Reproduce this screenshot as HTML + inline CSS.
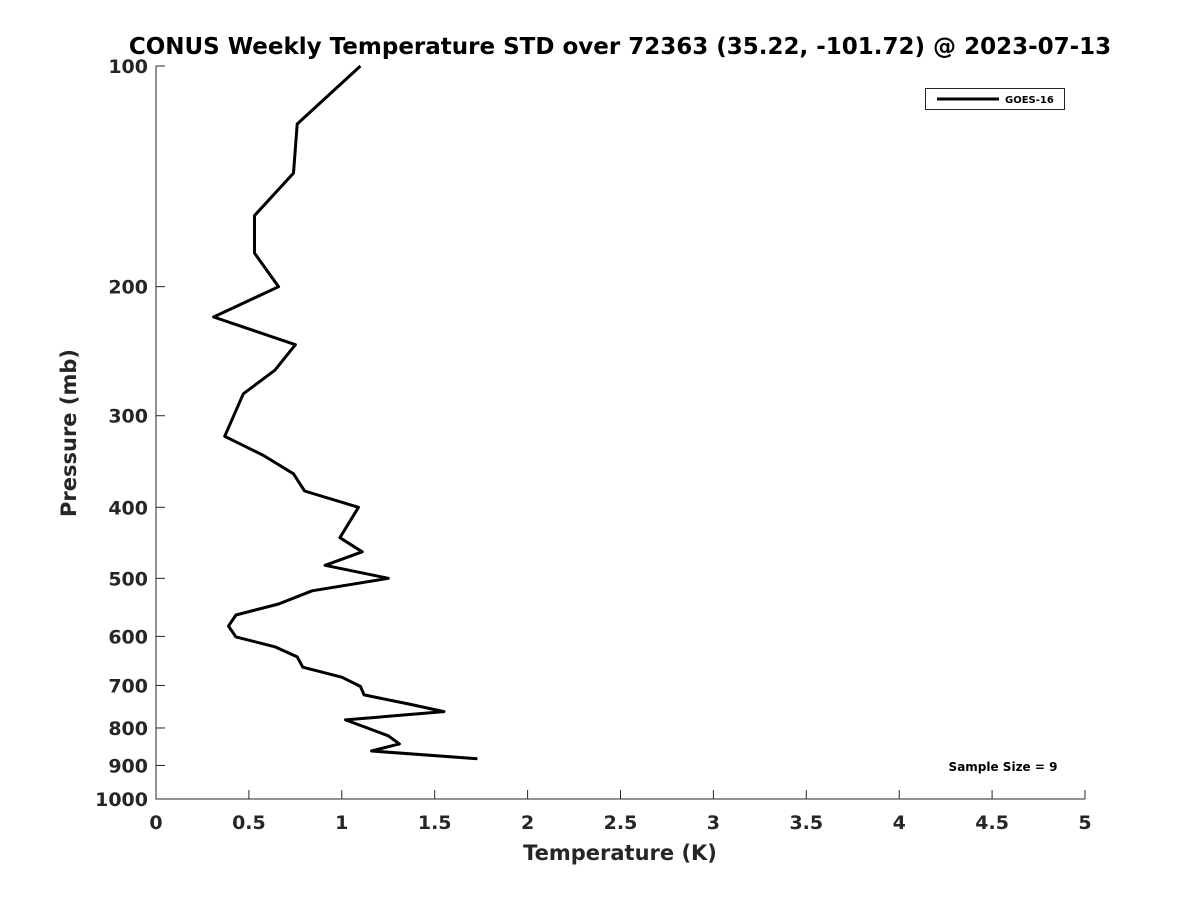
<!DOCTYPE html>
<html><head><meta charset="utf-8"><style>
body{margin:0;background:#fff}
svg text{font-family:"DejaVu Sans","Liberation Sans",sans-serif;font-weight:bold;fill:#262626}
</style></head><body>
<svg width="1200" height="900" xmlns="http://www.w3.org/2000/svg">
<rect width="1200" height="900" fill="#fff"/>
<text x="620" y="54" text-anchor="middle" font-size="23" style="fill:#000">CONUS Weekly Temperature STD over 72363 (35.22, -101.72) @ 2023-07-13</text>
<g id="axes"></g>
<text x="620" y="860" text-anchor="middle" font-size="21">Temperature (K)</text>
<text transform="translate(76,433) rotate(-90)" text-anchor="middle" font-size="21">Pressure (mb)</text>
<g>
<rect x="925.5" y="88.5" width="139" height="21" fill="#fff" stroke="#262626" stroke-width="1"/>
<line x1="937" y1="99" x2="999" y2="99" stroke="#000" stroke-width="3"/>
<text x="1005" y="103" font-size="10" style="fill:#000">GOES-16</text>
</g>
<text x="1003" y="771" text-anchor="middle" font-size="12" style="fill:#000">Sample Size = 9</text>
<path id="series" fill="none" stroke="#000" stroke-width="3" stroke-linejoin="round"/>
</svg>
<script>
const pressures=[100,120,140,160,180,200,220,240,260,280,320,340,360,380,400,440,460,480,500,520,542,561,581,601,620,640,661,682,702,721,742,760,780,820,841,860,881];
const temps=[1.10,0.76,0.74,0.53,0.53,0.66,0.31,0.75,0.64,0.47,0.37,0.58,0.74,0.80,1.09,0.99,1.11,0.91,1.25,0.84,0.66,0.43,0.39,0.43,0.64,0.76,0.79,1.00,1.10,1.12,1.36,1.55,1.02,1.25,1.31,1.16,1.73];
const xTicks=[0,0.5,1,1.5,2,2.5,3,3.5,4,4.5,5];
const yTicks=[100,200,300,400,500,600,700,800,900,1000];
const X0=156,X1=1085,Y0=66,Y1=799;
const xs=v=>X0+(v-0)/5*(X1-X0);
const ys=p=>Y0+(Math.log10(p)-2)*(Y1-Y0);
const NS="http://www.w3.org/2000/svg";
const ax=document.getElementById('axes');
function mk(t,a){const e=document.createElementNS(NS,t);for(const k in a)e.setAttribute(k,a[k]);return e;}
let sp=mk('path',{d:`M${X0},${Y0}V${Y1}H${X1}`,fill:'none',stroke:'#262626','stroke-width':1});


ax.appendChild(sp);
xTicks.forEach(v=>{
 const x=xs(v);
 const l=mk('line',{x1:x,x2:x,y1:Y1,y2:Y1-9,stroke:'#262626'});
 
 
 ax.appendChild(l);
 const t=mk('text',{x:x,y:Y1+30,'text-anchor':'middle','font-size':19});
 
 
 t.textContent=String(v);ax.appendChild(t);
});
yTicks.forEach(p=>{
 const y=ys(p);
 const l=mk('line',{x1:X0,x2:X0+9,y1:y,y2:y,stroke:'#262626'});
 
 
 ax.appendChild(l);
 const t=mk('text',{x:X0-8,y:y+7,'text-anchor':'end','font-size':19});
 
 
 t.textContent=String(p);ax.appendChild(t);
});
document.getElementById('series').setAttribute('d',pressures.map((p,i)=>(i?'L':'M')+xs(temps[i]).toFixed(1)+','+ys(p).toFixed(1)).join(''));
</script>
</body></html>
